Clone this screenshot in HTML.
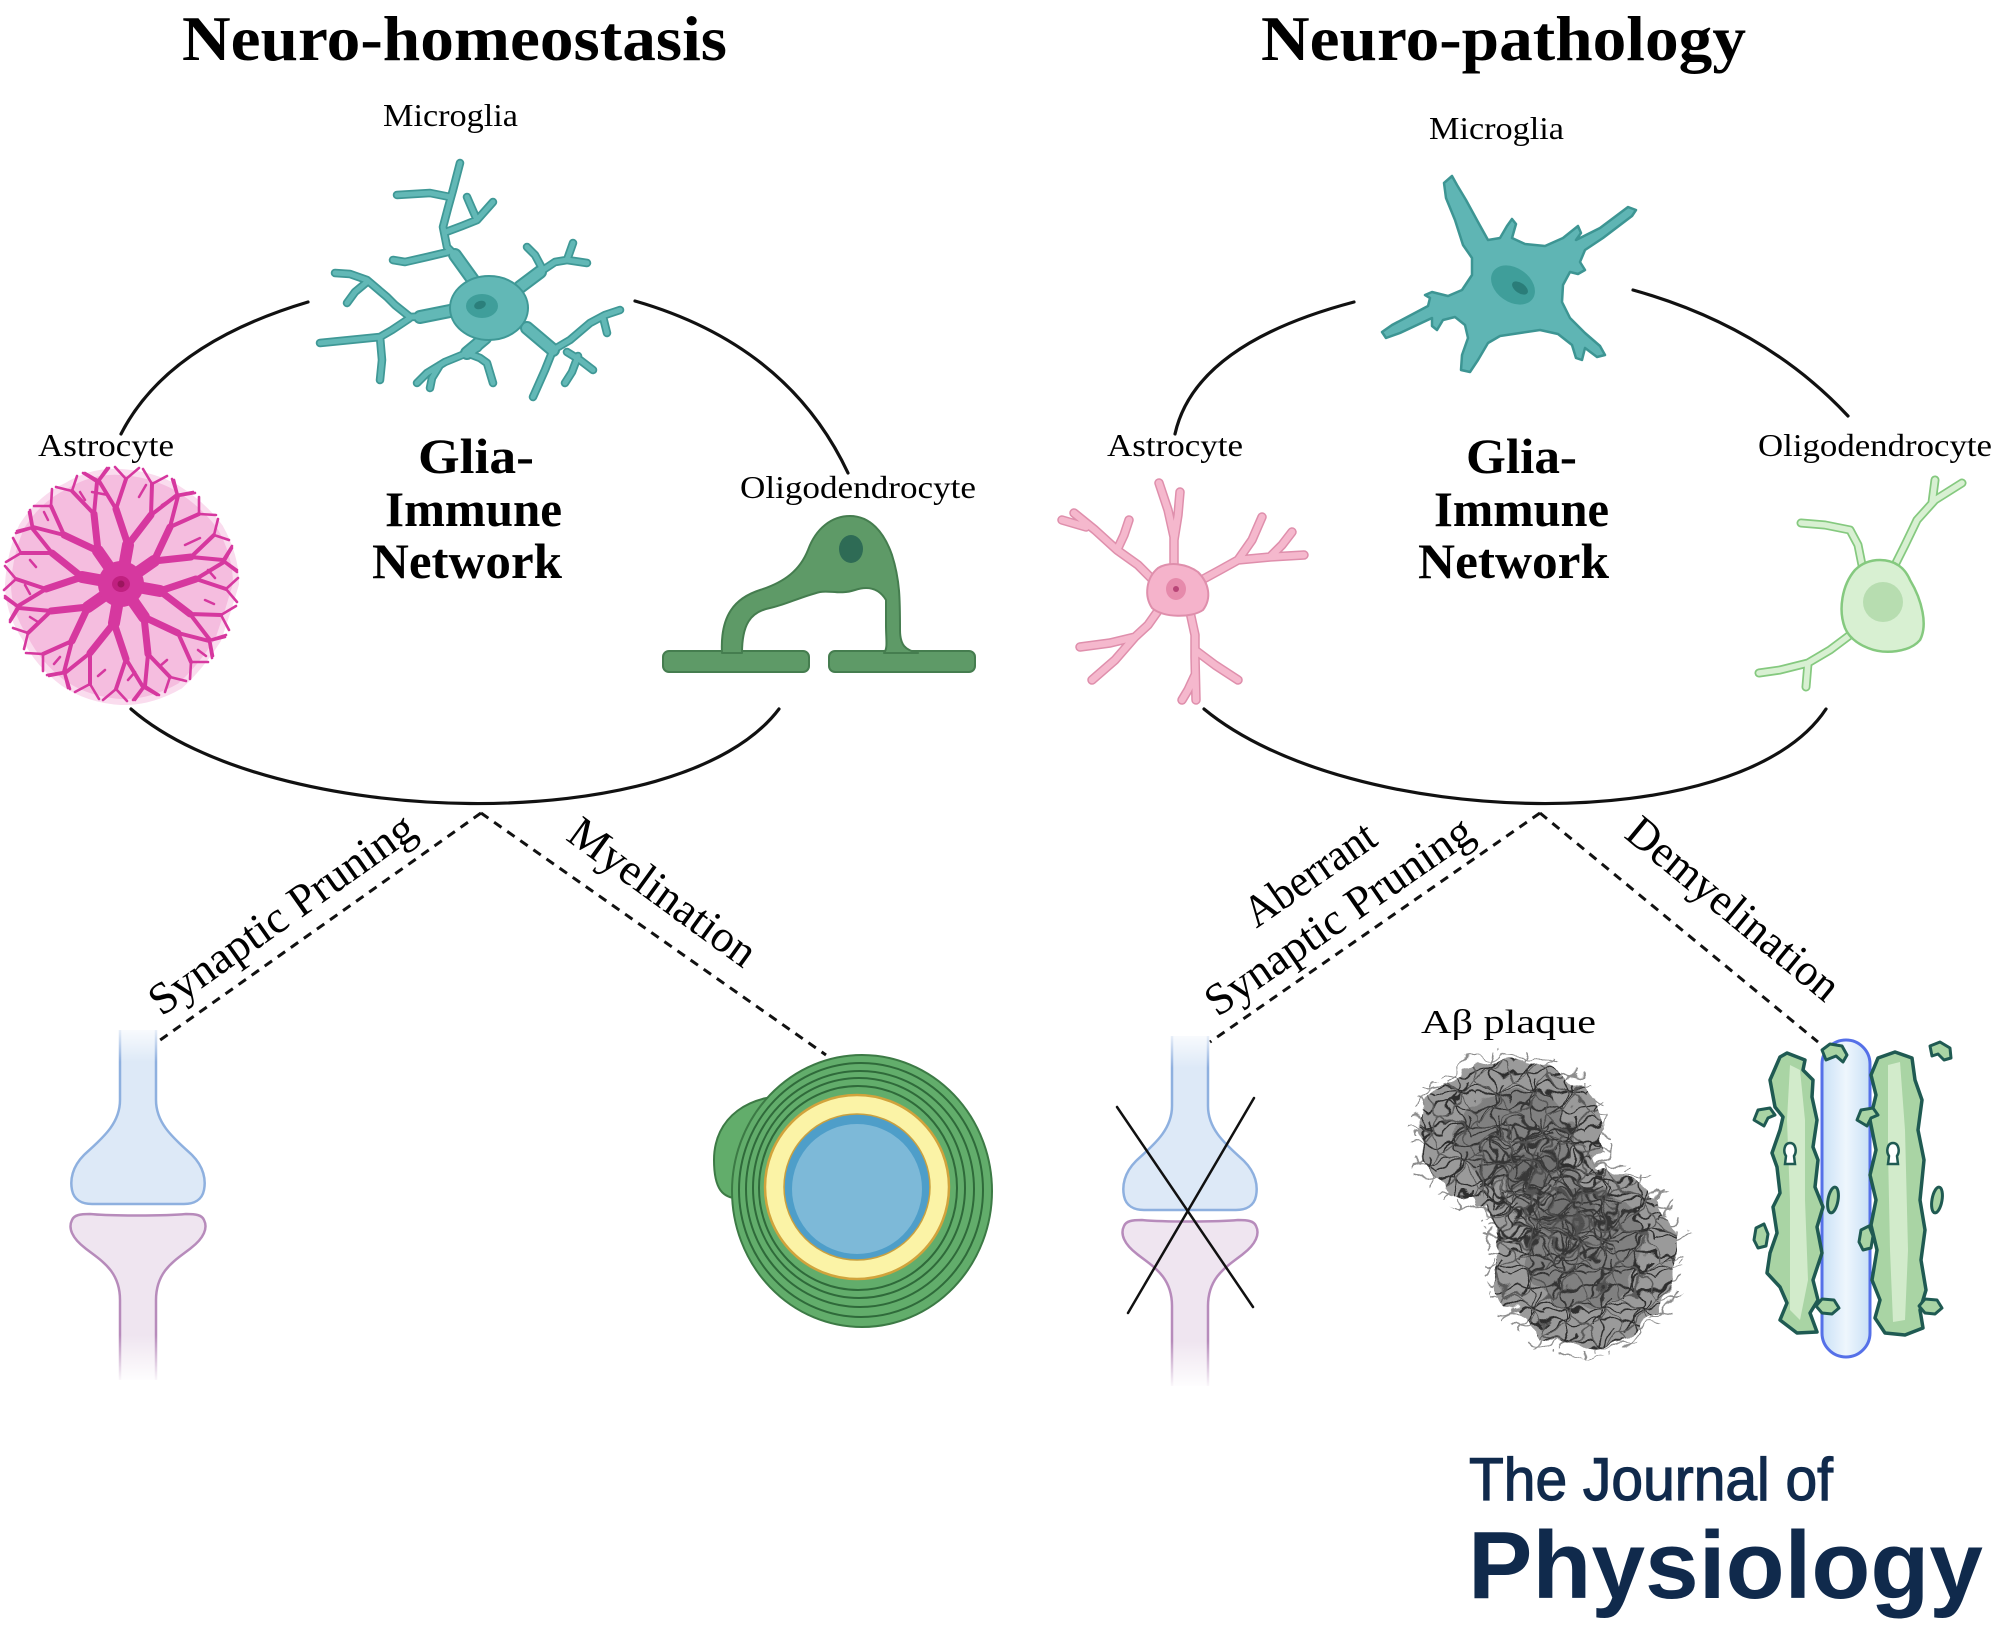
<!DOCTYPE html>
<html><head><meta charset="utf-8"><style>
html,body{margin:0;padding:0;background:#fff;}
svg{display:block;}
</style></head><body>
<svg width="2000" height="1637" viewBox="0 0 2000 1637" xmlns="http://www.w3.org/2000/svg">
<defs>
<linearGradient id="fadeTop" x1="0" y1="0" x2="0" y2="1"><stop offset="0" stop-color="#fff" stop-opacity="1"/><stop offset="1" stop-color="#fff" stop-opacity="0"/></linearGradient>
<linearGradient id="fadeBot" x1="0" y1="0" x2="0" y2="1"><stop offset="0" stop-color="#fff" stop-opacity="0"/><stop offset="1" stop-color="#fff" stop-opacity="1"/></linearGradient>
<linearGradient id="tube" x1="0" y1="0" x2="1" y2="0"><stop offset="0" stop-color="#c9e0f6"/><stop offset="0.5" stop-color="#eef6fd"/><stop offset="1" stop-color="#c9e0f6"/></linearGradient>
<pattern id="fibD" width="36" height="36" patternUnits="userSpaceOnUse">
<g fill="none" stroke-linecap="round">
<path d="M-2,8 C8,0 16,18 38,6 M4,38 C6,22 24,30 28,-2 M-2,28 C12,20 22,36 38,26 M18,-2 C26,10 10,24 20,38 M-2,18 Q18,4 38,20" stroke="#2f2f2f" stroke-width="1.8"/>
<path d="M0,0 C12,12 24,4 36,36 M36,0 C20,14 30,26 0,36" stroke="#5a5a5a" stroke-width="1.5"/>
</g></pattern>
<pattern id="fibL" width="30" height="30" patternUnits="userSpaceOnUse">
<g fill="none" stroke="#8d8d8d" stroke-width="1.5" stroke-linecap="round">
<path d="M-2,6 C8,-2 16,16 32,4 M3,32 C6,18 20,26 24,-2 M-2,22 C10,16 18,32 32,20"/>
</g></pattern>
<filter id="rough" x="-20%" y="-20%" width="140%" height="140%">
<feTurbulence type="fractalNoise" baseFrequency="0.045" numOctaves="2" seed="4" result="n"/>
<feDisplacementMap in="SourceGraphic" in2="n" scale="24" xChannelSelector="R" yChannelSelector="G"/>
</filter>
<path id="mgL" d="M473,280 L462,262 L447,247 L443,227 L448,208 L453,190 L460,163 M450,197 L430,193 L397,195 M446,232 L462,226 L477,220 L493,202 M477,220 L470,204 L467,197 M448,252 L427,257 L405,262 L393,260 M455,310 L432,316 L410,317 L395,305 L387,297 L367,280 L350,274 L335,273 M367,282 L355,292 L347,303 M410,318 L392,330 L380,337 L350,340 L320,343 M380,337 L382,360 L380,380 M520,287 L535,278 L543,270 L535,255 L527,247 M543,270 L555,262 L567,260 L573,243 M567,260 L587,263 M527,328 L540,340 L553,350 L570,340 L590,323 L605,315 L620,310 M603,317 L605,325 L607,333 M553,350 L545,370 L533,397 M567,352 L580,360 L593,370 M578,356 L572,372 L565,383 M485,338 L478,348 L467,353 L445,362 L427,373 L417,383 M467,353 L480,358 L487,363 L493,383 M440,365 L432,378 L430,388"/>
<path id="astR" d="M1174,575 L1174,537 L1168,510 L1159,483 M1174,540 L1178,515 L1180,492 M1158,585 L1138,565 L1117,550 L1095,530 L1074,513 M1117,550 L1124,535 L1129,520 M1086,527 L1062,520 M1198,582 L1220,570 L1238,560 L1252,540 L1262,517 M1238,560 L1270,557 L1304,555 M1270,557 L1282,545 L1292,532 M1160,608 L1148,625 L1135,637 L1110,643 L1080,647 M1135,637 L1115,660 L1092,680 M1190,612 L1195,635 L1195,657 L1196,700 M1195,650 L1215,665 L1238,680 M1195,675 L1188,690 L1182,700"/>
<path id="oliR" d="M1895,565 L1905,545 L1917,520 L1935,500 L1962,483 M1932,503 L1935,480 M1862,565 L1858,545 L1850,530 L1825,525 L1801,523 M1850,635 L1830,650 L1808,663 L1780,670 L1759,673 M1808,663 L1806,687"/>
<g id="synapse">
<path d="M120,1030 L120,1100 C120,1125 100,1140 84,1155 C72,1167 70,1180 72,1190 C74,1200 82,1204 92,1204 L184,1204 C194,1204 202,1200 204,1190 C206,1180 204,1167 192,1155 C176,1140 156,1125 156,1100 L156,1030" fill="#dde9f7" stroke="#8eb0df" stroke-width="2.5"/>
<path d="M120,1380 L120,1300 C120,1270 100,1260 85,1248 C72,1238 68,1228 72,1220 C74,1215 80,1214 90,1214 C110,1216 166,1216 186,1214 C196,1214 202,1215 204,1220 C208,1228 204,1238 191,1248 C176,1260 156,1270 156,1300 L156,1380" fill="#efe5f0" stroke="#b78bbb" stroke-width="2.5"/>
<rect x="108" y="1022" width="60" height="40" fill="url(#fadeTop)"/>
<rect x="108" y="1335" width="60" height="48" fill="url(#fadeBot)"/>
</g>
</defs>

<!-- Titles -->
<g font-family="'Liberation Serif', serif" fill="#000">
<text x="182" y="60" font-size="64" font-weight="bold" textLength="545" lengthAdjust="spacingAndGlyphs">Neuro-homeostasis</text>
<text x="1261" y="60" font-size="64" font-weight="bold" textLength="485" lengthAdjust="spacingAndGlyphs">Neuro-pathology</text>

<text x="383" y="126" font-size="32" textLength="135" lengthAdjust="spacingAndGlyphs">Microglia</text>
<text x="1429" y="139" font-size="32" textLength="135" lengthAdjust="spacingAndGlyphs">Microglia</text>
<text x="38" y="456" font-size="32" textLength="136" lengthAdjust="spacingAndGlyphs">Astrocyte</text>
<text x="1107" y="456" font-size="32" textLength="136" lengthAdjust="spacingAndGlyphs">Astrocyte</text>
<text x="740" y="498" font-size="32" textLength="236" lengthAdjust="spacingAndGlyphs">Oligodendrocyte</text>
<text x="1758" y="456" font-size="32" textLength="234" lengthAdjust="spacingAndGlyphs">Oligodendrocyte</text>

<g font-size="50" font-weight="bold">
<text x="418" y="473" textLength="116" lengthAdjust="spacingAndGlyphs">Glia-</text>
<text x="385" y="526" textLength="177" lengthAdjust="spacingAndGlyphs">Immune</text>
<text x="372" y="578" textLength="190" lengthAdjust="spacingAndGlyphs">Network</text>
<text x="1466" y="473" textLength="111" lengthAdjust="spacingAndGlyphs">Glia-</text>
<text x="1434" y="526" textLength="175" lengthAdjust="spacingAndGlyphs">Immune</text>
<text x="1418" y="578" textLength="191" lengthAdjust="spacingAndGlyphs">Network</text>
</g>

<g font-size="45">
<text transform="translate(290,926) rotate(-35.3)" text-anchor="middle" textLength="315" lengthAdjust="spacingAndGlyphs">Synaptic Pruning</text>
<text transform="translate(654,904) rotate(36)" text-anchor="middle" textLength="221" lengthAdjust="spacingAndGlyphs">Myelination</text>
<text transform="translate(1318,886) rotate(-34.7)" text-anchor="middle" textLength="150" lengthAdjust="spacingAndGlyphs">Aberrant</text>
<text transform="translate(1347,928) rotate(-34.7)" text-anchor="middle" textLength="315" lengthAdjust="spacingAndGlyphs">Synaptic Pruning</text>
<text transform="translate(1724,920) rotate(39.5)" text-anchor="middle" textLength="262" lengthAdjust="spacingAndGlyphs">Demyelination</text>
</g>
<text x="1421" y="1033" font-size="34" textLength="175" lengthAdjust="spacingAndGlyphs">Aβ plaque</text>
</g>

<!-- Arcs -->
<g fill="none" stroke="#111" stroke-width="3.2" stroke-linecap="round">
<path d="M308,302 Q167,344 121,434"/>
<path d="M635,301 Q788,345 848,473"/>
<path d="M131,709 C270,830 680,840 779,709"/>
<path d="M1354,302 Q1195,344 1175,434"/>
<path d="M1633,290 Q1765,327 1848,416"/>
<path d="M1204,709 C1350,830 1740,840 1826,709"/>
</g>

<!-- Microglia left -->
<g fill="none" stroke-linecap="round" stroke-linejoin="round">
<use href="#mgL" stroke="#3f9896" stroke-width="8.5"/>
<path d="M473,280 L455,255 M455,310 L420,317 M520,287 L540,272 M527,328 L553,350 M485,338 L467,353" stroke="#3f9896" stroke-width="14"/>
<use href="#mgL" stroke="#62b8b6" stroke-width="5"/>
<path d="M473,280 L455,255 M455,310 L420,317 M520,287 L540,272 M527,328 L553,350 M485,338 L467,353" stroke="#62b8b6" stroke-width="10"/>
</g>
<ellipse cx="489" cy="308" rx="39" ry="32" fill="#62b8b6" stroke="#3f9896" stroke-width="2"/>
<ellipse cx="482" cy="306" rx="16" ry="12" fill="#3f9e9a"/>
<ellipse cx="480" cy="305" rx="6" ry="4" fill="#2b7f7b" transform="rotate(-20 480 305)"/>

<!-- Microglia right -->
<path d="M1444,183 L1452,176 L1457,185 L1466,200 L1478,222 L1488,240 L1500,238 L1507,226 L1512,219 L1516,224 L1512,238 L1525,244 L1545,246 L1563,238 L1573,230 L1578,226 L1581,233 L1576,240 L1600,228 L1628,207 L1636,210 L1632,216 L1603,238 L1585,250 L1580,262 L1585,270 L1578,274 L1570,272 L1563,285 L1562,302 L1570,318 L1585,333 L1600,346 L1605,355 L1597,357 L1585,348 L1582,360 L1576,358 L1572,345 L1558,334 L1540,330 L1520,333 L1500,336 L1488,343 L1478,360 L1470,372 L1461,370 L1462,355 L1468,338 L1465,325 L1455,317 L1443,320 L1437,330 L1432,326 L1432,318 L1400,333 L1386,338 L1382,332 L1392,325 L1428,306 L1430,298 L1425,295 L1432,292 L1448,296 L1462,290 L1472,275 L1472,258 L1463,245 L1455,220 L1446,198 Z" fill="#5fb5b4" stroke="#3d9593" stroke-width="2.5" stroke-linejoin="round"/>
<ellipse cx="1513" cy="285" rx="24" ry="17" fill="#3f9e9a" transform="rotate(35 1513 285)"/>
<ellipse cx="1520" cy="288" rx="9" ry="5" fill="#2a7d79" transform="rotate(35 1520 288)"/>

<!-- Astrocyte left -->
<path d="M236,584 Q228,612 218,640 Q200,668 180,686 Q150,703 121,702 Q88,700 63,683 Q38,664 25,638 Q8,612 8,584 Q10,552 22,526 Q40,498 66,486 Q92,470 121,472 Q152,474 177,488 Q203,504 220,527 Q236,555 236,584 Z" fill="#f5bddf" stroke="#fadcee" stroke-width="6"/>
<g fill="none" stroke="#d6389f" stroke-linecap="round">
<path stroke-width="12" d="M121,584 L128,545 M121,584 L154,561 M121,584 L160,591 M121,584 L144,617 M121,584 L114,623 M121,584 L88,607 M121,584 L82,577 M121,584 L98,551"/>
<path stroke-width="7" d="M128,545 L116,509 M128,545 L151,515 M154,561 L170,527 M154,561 L191,557 M160,591 L196,579 M160,591 L190,614 M144,617 L178,633 M144,617 L148,654 M114,623 L126,659 M114,623 L90,653 M88,607 L72,641 M88,607 L51,611 M82,577 L46,589 M82,577 L52,553 M98,551 L64,535 M98,551 L94,514"/>
<path stroke-width="4" d="M116,509 L99,481 M116,509 L126,479 M151,515 L152,484 M151,515 L177,495 M170,527 L178,496 M170,527 L199,514 M191,557 L214,535 M191,557 L223,560 M196,579 L224,562 M196,579 L226,589 M190,614 L221,615 M190,614 L210,640 M178,633 L209,641 M178,633 L191,662 M148,654 L170,677 M148,654 L145,686 M126,659 L143,687 M126,659 L116,689 M90,653 L90,684 M90,653 L65,673 M72,641 L64,672 M72,641 L43,654 M51,611 L28,633 M51,611 L19,608 M46,589 L18,606 M46,589 L16,579 M52,553 L21,553 M52,553 L32,528 M64,535 L33,527 M64,535 L51,506 M94,514 L72,491 M94,514 L97,482"/>
<path stroke-width="2.6" d="M99,481 L85,473 M99,481 L109,468 M126,479 L115,467 M126,479 L139,468 M152,484 L143,469 M152,484 L167,476 M177,495 L172,479 M177,495 L193,492 M178,496 L174,480 M178,496 L195,493 M199,514 L199,497 M199,514 L216,515 M214,535 L218,519 M214,535 L229,540 M223,560 L232,546 M223,560 L237,570 M224,562 L232,548 M224,562 L237,572 M226,589 L238,578 M226,589 L237,602 M221,615 L236,606 M221,615 L229,630 M210,640 L226,635 M210,640 L213,656 M209,641 L225,637 M209,641 L212,658 M191,662 L208,662 M191,662 L190,679 M170,677 L186,681 M170,677 L165,692 M145,686 L159,695 M145,686 L135,700 M143,687 L157,695 M143,687 L133,700 M116,689 L127,701 M116,689 L103,700 M90,684 L99,699 M90,684 L75,692 M65,673 L70,689 M65,673 L49,676 M64,672 L68,688 M64,672 L47,675 M43,654 L43,671 M43,654 L26,653 M28,633 L24,649 M28,633 L13,628 M19,608 L10,622 M19,608 L5,598 M18,606 L10,620 M18,606 L5,596 M16,579 L4,590 M16,579 L5,566 M21,553 L6,562 M21,553 L13,538 M32,528 L16,533 M32,528 L29,512 M33,527 L17,531 M33,527 L30,510 M51,506 L34,506 M51,506 L52,489 M72,491 L56,487 M72,491 L77,476 M97,482 L83,473 M97,482 L107,468"/>
<path stroke-width="2.5" d="M108,495 L92,492 M139,497 L146,485 M162,505 L170,500 M185,545 L200,538 M208,570 L215,578 M205,600 L214,604 M198,650 L206,656 M160,666 L167,660 M135,672 L128,680 M105,670 L98,676 M60,657 L54,664 M38,622 L30,617 M30,594 L25,585 M36,567 L30,560 M48,520 L44,512 M85,500 L80,492"/>
</g>
<circle cx="121" cy="584" r="23" fill="#d6389f"/>
<ellipse cx="121" cy="584" rx="9" ry="8" fill="#c02080"/>
<circle cx="121" cy="584" r="3.5" fill="#9c155e"/>

<!-- Oligodendrocyte left -->
<rect x="663" y="651" width="146" height="21" rx="6" fill="#5e9a67" stroke="#457d4f" stroke-width="2"/>
<rect x="829" y="651" width="146" height="21" rx="6" fill="#5e9a67" stroke="#457d4f" stroke-width="2"/>
<path d="M722,653 C720,615 735,598 760,590 C785,582 800,570 808,550 C816,528 832,516 850,516 C870,516 884,532 892,555 C900,580 900,600 900,630 C900,645 905,650 918,653 L884,653 C888,648 886,640 886,625 L886,600 C880,590 870,585 855,590 C840,595 830,590 820,592 C800,597 785,605 770,608 C750,612 742,625 742,653 Z" fill="#5e9a67" stroke="#457d4f" stroke-width="2" stroke-linejoin="round"/>
<ellipse cx="851" cy="549" rx="12" ry="14" fill="#2e6b55"/>

<!-- Astrocyte right -->
<g fill="none" stroke-linecap="round" stroke-linejoin="round">
<use href="#astR" stroke="#df8fac" stroke-width="9.5"/>
<use href="#astR" stroke="#f5b8cd" stroke-width="6.5"/>
</g>
<path d="M1158,568 C1170,561 1187,564 1198,572 C1209,583 1212,598 1203,610 C1192,618 1163,618 1152,608 C1144,596 1146,578 1158,568 Z" fill="#f5b3cb" stroke="#df8fac" stroke-width="2"/>
<ellipse cx="1176" cy="589" rx="10" ry="11" fill="#e68aab"/>
<circle cx="1176" cy="589" r="3" fill="#b84577"/>

<!-- Oligodendrocyte right -->
<g fill="none" stroke-linecap="round" stroke-linejoin="round">
<use href="#oliR" stroke="#85c97f" stroke-width="9"/>
<use href="#oliR" stroke="#d8f0d2" stroke-width="5.5"/>
</g>
<path d="M1880,560 C1895,560 1905,568 1910,580 C1922,600 1928,625 1920,640 C1910,652 1885,655 1868,648 C1855,643 1848,635 1845,628 C1838,610 1842,585 1855,570 C1862,563 1870,560 1880,560 Z" fill="#d8f0d2" stroke="#85c97f" stroke-width="2.5"/>
<circle cx="1883" cy="602" r="20" fill="#b7ddb0"/>

<!-- Synapses -->
<use href="#synapse"/>
<use href="#synapse" transform="translate(1052,6)"/>
<g stroke="#111" stroke-width="2.5" stroke-linecap="round">
<line x1="1117" y1="1107" x2="1253" y2="1307"/>
<line x1="1254" y1="1098" x2="1128" y2="1313"/>
</g>

<!-- Myelin -->
<path d="M800,1096 C748,1092 714,1118 714,1160 C714,1188 722,1200 742,1198 L810,1196 Z" fill="#62ad6b" stroke="#3c7a45" stroke-width="2"/>
<ellipse cx="862" cy="1191" rx="130" ry="136" fill="#62ad6b" stroke="#3c7a45" stroke-width="2"/>
<g fill="none" stroke="#2f6a3a" stroke-width="2">
<ellipse cx="861" cy="1190" rx="122" ry="127"/>
<ellipse cx="860" cy="1189" rx="114" ry="118"/>
<ellipse cx="859" cy="1188" rx="106" ry="110"/>
<ellipse cx="858" cy="1188" rx="99" ry="102"/>
</g>
<circle cx="857" cy="1187" r="92" fill="#fbf3a6" stroke="#d1a33c" stroke-width="2.5"/>
<circle cx="857" cy="1187" r="73" fill="#4e9ec9" stroke="#c9a040" stroke-width="1.5"/>
<circle cx="857" cy="1189" r="65" fill="#7db9d8"/>

<!-- Plaque -->
<g filter="url(#rough)">
<ellipse cx="1510" cy="1134" rx="104" ry="86" fill="url(#fibL)"/>
<ellipse cx="1586" cy="1256" rx="102" ry="102" fill="url(#fibL)"/>
<ellipse cx="1548" cy="1195" rx="95" ry="70" fill="url(#fibL)" transform="rotate(50 1548 1195)"/>
<ellipse cx="1510" cy="1134" rx="92" ry="74" fill="#9a9a9a"/>
<ellipse cx="1586" cy="1256" rx="90" ry="90" fill="#9a9a9a"/>
<ellipse cx="1548" cy="1195" rx="84" ry="60" fill="#9a9a9a" transform="rotate(50 1548 1195)"/>
<ellipse cx="1510" cy="1134" rx="92" ry="74" fill="url(#fibD)"/>
<ellipse cx="1586" cy="1256" rx="90" ry="90" fill="url(#fibD)"/>
<ellipse cx="1548" cy="1195" rx="84" ry="60" fill="url(#fibD)" transform="rotate(50 1548 1195)"/>
<ellipse cx="1515" cy="1138" rx="60" ry="48" fill="#444" opacity="0.3"/>
<ellipse cx="1583" cy="1248" rx="60" ry="60" fill="#444" opacity="0.3"/>
<ellipse cx="1550" cy="1195" rx="50" ry="35" fill="#444" opacity="0.25" transform="rotate(50 1550 1195)"/>
</g>

<!-- Demyelination -->
<rect x="1822" y="1040" width="48" height="317" rx="24" fill="url(#tube)" stroke="#5570e8" stroke-width="3"/>
<g fill="#a9d4a4" stroke="#1f5a52" stroke-width="3.5" stroke-linejoin="round">
<path d="M1787,1053 L1805,1060 L1803,1070 L1813,1080 L1812,1097 L1817,1120 L1813,1147 L1818,1160 L1815,1187 L1823,1207 L1817,1227 L1822,1253 L1813,1280 L1818,1300 L1810,1313 L1817,1332 L1797,1333 L1780,1320 L1787,1303 L1780,1287 L1767,1273 L1770,1253 L1777,1233 L1773,1207 L1780,1193 L1777,1167 L1772,1153 L1780,1130 L1783,1117 L1775,1107 L1770,1080 L1780,1057 Z"/>
<path d="M1878,1058 L1895,1052 L1912,1058 L1915,1080 L1922,1100 L1918,1130 L1924,1160 L1920,1200 L1925,1230 L1921,1260 L1926,1290 L1920,1310 L1923,1328 L1905,1335 L1885,1333 L1875,1318 L1880,1300 L1872,1280 L1877,1250 L1871,1225 L1876,1200 L1870,1175 L1876,1150 L1870,1120 L1876,1095 L1871,1075 Z"/>
</g>
<g fill="#d2ebcb">
<path d="M1790,1065 L1800,1070 L1805,1120 L1805,1200 L1808,1280 L1800,1320 L1790,1310 L1790,1200 L1787,1120 Z"/>
<path d="M1888,1065 L1900,1062 L1905,1130 L1908,1250 L1905,1320 L1893,1322 L1890,1250 L1888,1150 Z"/>
</g>
<g fill="#fff" stroke="#1f5a52" stroke-width="2.5">
<path d="M1790,1143 C1796,1143 1797,1152 1794,1156 L1795,1164 L1785,1164 L1786,1156 C1783,1152 1784,1143 1790,1143 Z"/>
<path d="M1893,1143 C1899,1143 1900,1152 1897,1156 L1898,1164 L1888,1164 L1889,1156 C1886,1152 1887,1143 1893,1143 Z"/>
</g>
<g fill="#a9d4a4" stroke="#1f5a52" stroke-width="3" stroke-linejoin="round">
<path d="M1822,1050 L1830,1044 L1842,1046 L1847,1055 L1843,1062 L1836,1056 L1826,1060 Z"/>
<path d="M1930,1046 L1940,1042 L1950,1048 L1951,1058 L1944,1060 L1938,1054 L1932,1056 Z"/>
<path d="M1754,1120 L1758,1110 L1770,1108 L1775,1115 L1768,1118 L1764,1126 Z"/>
<path d="M1857,1120 L1861,1110 L1873,1108 L1878,1115 L1871,1118 L1867,1126 Z"/>
<ellipse cx="1833" cy="1200" rx="5" ry="13" transform="rotate(10 1833 1200)"/>
<ellipse cx="1937" cy="1200" rx="5" ry="13" transform="rotate(10 1937 1200)"/>
<path d="M1754,1240 L1756,1228 L1764,1224 L1768,1234 L1766,1246 L1758,1248 Z"/>
<path d="M1859,1242 L1861,1230 L1869,1226 L1873,1236 L1871,1248 L1863,1250 Z"/>
<path d="M1816,1306 L1822,1299 L1834,1300 L1839,1308 L1832,1314 L1822,1313 Z"/>
<path d="M1919,1306 L1925,1299 L1937,1300 L1942,1308 L1935,1314 L1925,1313 Z"/>
</g>

<!-- Dashed connectors -->
<g fill="none" stroke="#111" stroke-width="3" stroke-dasharray="9 7">
<line x1="481" y1="813" x2="156" y2="1043"/>
<line x1="481" y1="813" x2="826" y2="1055"/>
<line x1="1540" y1="813" x2="1210" y2="1042"/>
<line x1="1540" y1="813" x2="1818" y2="1042"/>
</g>

<!-- Logo -->
<g font-family="'Liberation Sans', sans-serif" fill="#102a4c">
<text x="1469" y="1500" font-size="60" stroke="#102a4c" stroke-width="1.2" textLength="364" lengthAdjust="spacingAndGlyphs">The Journal of</text>
<text x="1468" y="1598" font-size="96" font-weight="bold" textLength="515" lengthAdjust="spacingAndGlyphs">Physiology</text>
</g>
</svg>
</body></html>
